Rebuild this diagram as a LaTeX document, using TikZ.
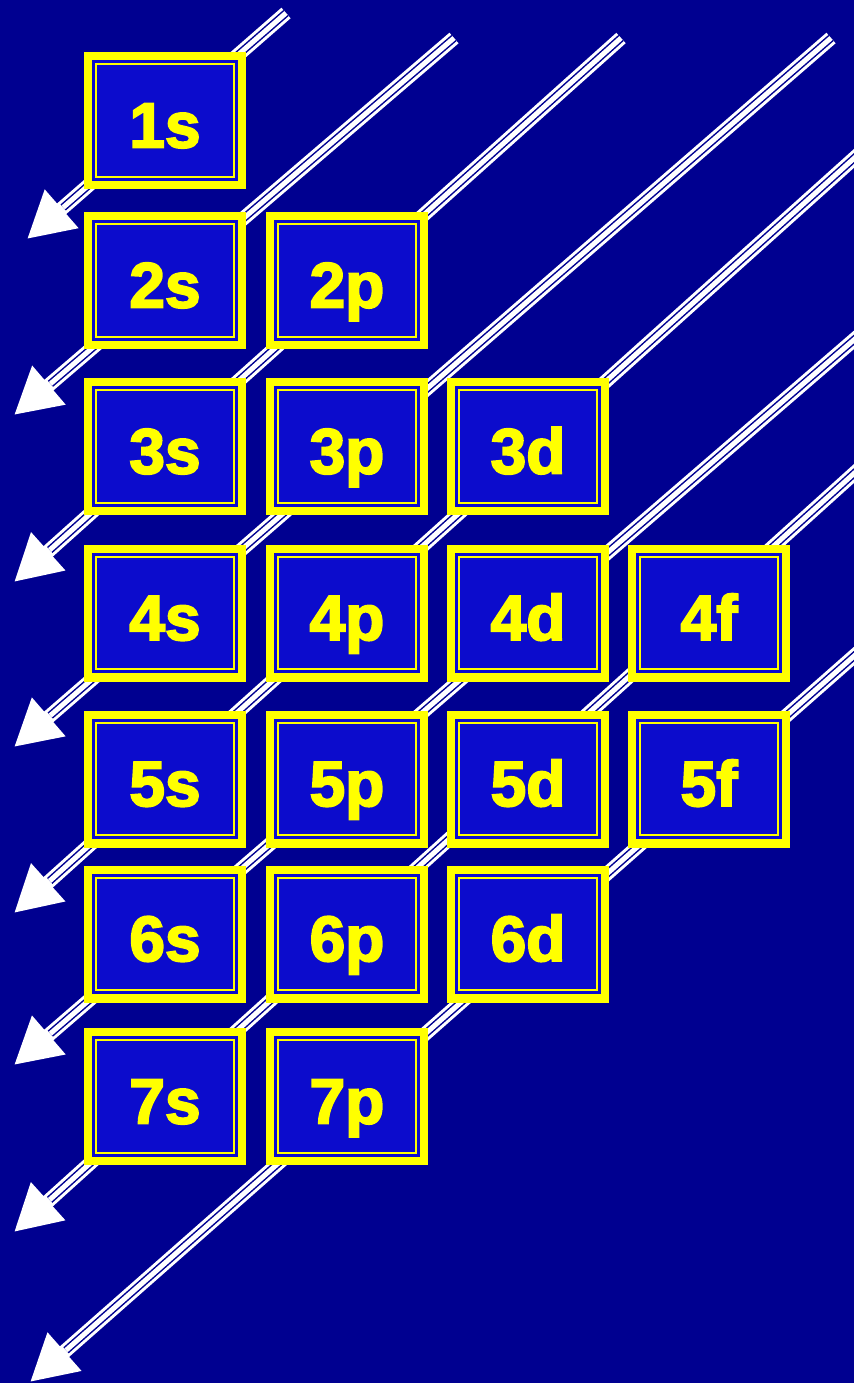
\documentclass[tikz,border=0pt]{standalone}
\usepackage{fontspec}
\usepackage{xcolor}
\usepackage{tikz}
\usetikzlibrary{arrows.meta}
\newfontfamily\orbfont[FakeBold=3]{Liberation Sans Bold}
\definecolor{aufnight}{RGB}{0, 0, 144}
\definecolor{aufblue}{RGB}{12, 12, 204}
\definecolor{aufyellow}{RGB}{255, 255, 0}

\begin{document}
\begin{tikzpicture}[
    x=0.5pt, y=-0.5pt,
    orb/.style={draw=aufyellow, line width=4.2pt, fill=aufblue, minimum width=76.8pt, minimum height=64.3pt, inner sep=0pt,
      text=aufyellow, text height=27pt, text depth=0pt, font=\orbfont\fontsize{32}{32}\selectfont,
      path picture={\draw[aufyellow, line width=1pt] ([shift={(4pt,-4pt)}]path picture bounding box.north west) rectangle ([shift={(-4pt,4pt)}]path picture bounding box.south east);}},
    chute/.style={draw=white, line width=7pt, -{Triangle[length=23pt, width=24pt]},
      postaction={draw=aufnight, line width=4pt, shorten >=24pt, -},
      postaction={draw=white, line width=2.5pt, shorten >=24pt, -}}
  ]
  % background
  \fill[aufnight] (0,0) rectangle (854,1383);
  \useasboundingbox (0,0) rectangle (854,1383);
  \clip (0,0) rectangle (854,1383);

  % diagonal filling order: top-right ends and tips
  \coordinate (a1) at (286,13);  \coordinate (b1) at (27,239);
  \coordinate (a2) at (454,38);  \coordinate (b2) at (14,415);
  \coordinate (a3) at (621,38);  \coordinate (b3) at (14,582);
  \coordinate (a4) at (831,38);  \coordinate (b4) at (14,747);
  \coordinate (a5) at (870,144); \coordinate (b5) at (14,913);
  \coordinate (a6) at (870,326); \coordinate (b6) at (14,1065);
  \coordinate (a7) at (870,459); \coordinate (b7) at (14,1232);
  \coordinate (a8) at (870,642); \coordinate (b8) at (30,1382);

  \draw[chute] (a1) -- (b1);
  \draw[chute] (a2) -- (b2);
  \draw[chute] (a3) -- (b3);
  \draw[chute] (a4) -- (b4);
  \draw[chute] (a5) -- (b5);
  \draw[chute] (a6) -- (b6);
  \draw[chute] (a7) -- (b7);
  \draw[chute] (a8) -- (b8);

  % orbital boxes
  \node[orb] (o1s) at (165,120.5) {1s};
  \node[orb] (o2s) at (165,280.5) {2s};
  \node[orb] (o2p) at (347,280.5) {2p};
  \node[orb] (o3s) at (165,446.5) {3s};
  \node[orb] (o3p) at (347,446.5) {3p};
  \node[orb] (o3d) at (528,446.5) {3d};
  \node[orb] (o4s) at (165,613) {4s};
  \node[orb] (o4p) at (347,613) {4p};
  \node[orb] (o4d) at (528,613) {4d};
  \node[orb] (o4f) at (709,613) {4f};
  \node[orb] (o5s) at (165,779) {5s};
  \node[orb] (o5p) at (347,779) {5p};
  \node[orb] (o5d) at (528,779) {5d};
  \node[orb] (o5f) at (709,779) {5f};
  \node[orb] (o6s) at (165,934) {6s};
  \node[orb] (o6p) at (347,934) {6p};
  \node[orb] (o6d) at (528,934) {6d};
  \node[orb] (o7s) at (165,1096.5) {7s};
  \node[orb] (o7p) at (347,1096.5) {7p};
\end{tikzpicture}
\end{document}
